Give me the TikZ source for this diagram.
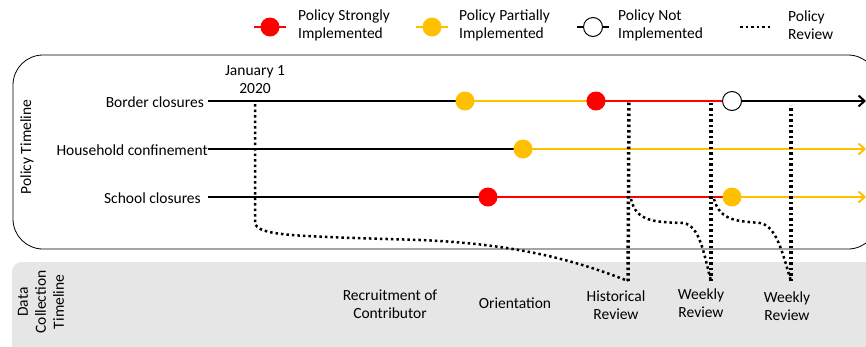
\documentclass[tikz,border=0pt]{standalone}
\usepackage{fontspec}
\setmainfont{Carlito}
\usetikzlibrary{arrows.meta}
\definecolor{pyellow}{HTML}{FFC000}
\definecolor{pred}{HTML}{FF0000}
\definecolor{dcgray}{HTML}{E6E6E6}
\begin{document}
\begin{tikzpicture}[x=1pt,y=-1pt,
  lbl/.style={font=\fontsize{15.5}{18}\selectfont, inner sep=0pt, align=center},
  lbll/.style={lbl, align=left, anchor=west},
  dotred/.style={circle, fill=pred, minimum size=19pt, inner sep=0pt},
  dotyel/.style={circle, fill=pyellow, minimum size=19pt, inner sep=0pt},
  dotnot/.style={circle, draw=black, fill=white, line width=1pt, minimum size=19pt, inner sep=0pt},
  tl/.style={line width=2pt},
  review/.style={line width=2.5pt, dash pattern=on 2.5pt off 3pt},
  reviewv/.style={line width=3.5pt, dash pattern=on 2.5pt off 3pt},
  arr/.style={-{Straight Barb[length=6pt,width=11pt]}},
]
\useasboundingbox (0,0) rectangle (866,346);
\clip (0,0) rectangle (866,346);

% panels
\fill[dcgray, rounded corners=10pt] (12,262) rectangle (900,370);
\draw[line width=0.8pt, rounded corners=30pt] (13,55) rectangle (878,249);
\node[lbl, rotate=90] (ptl) at (27,147) {Policy Timeline};
\node[lbl, rotate=90] (dctl) at (41,302) {Data\\Collection\\Timeline};

% legend
\coordinate (lrl) at (254,27); \coordinate (lrr) at (286,27);
\coordinate (lyl) at (416,27); \coordinate (lyr) at (448,27);
\coordinate (lnl) at (577,27); \coordinate (lnr) at (609,27);
\coordinate (lvl) at (740,27); \coordinate (lvr) at (772,27);
\draw[tl, pred] (lrl) -- (lrr);
\draw[tl, pyellow] (lyl) -- (lyr);
\draw[tl] (lnl) -- (lnr);
\draw[review] (lvl) -- (lvr);
\node[dotred] (lr) at (270,27) {};
\node[dotyel] (ly) at (432,27) {};
\node[dotnot] (ln) at (593,27) {};
\node[lbll] (tr) at (298,25) {Policy Strongly\\Implemented};
\node[lbll] (ty) at (459,25) {Policy Partially\\Implemented};
\node[lbll] (tn) at (618,25) {Policy Not\\Implemented};
\node[lbll] (tv) at (788,25) {Policy\\Review};

% date
\node[lbl] (jan) at (255,80) {January 1\\2020};

% row labels
\node[lbl, anchor=east] (bl) at (204,102) {Border closures};
\node[lbl, anchor=east] (hl) at (208,150) {Household confinement};
\node[lbl, anchor=east] (sl) at (201,198) {School closures};

% row coordinates
\coordinate (bs) at (208,101); \coordinate (be) at (866,101);
\coordinate (hs) at (208,149); \coordinate (he) at (866,149);
\coordinate (ss) at (208,197); \coordinate (se) at (866,197);

% event positions
\coordinate (b1) at (465,101); \coordinate (b2) at (596,101); \coordinate (b3) at (732,101);
\coordinate (h1) at (523,149);
\coordinate (s1) at (488,197); \coordinate (s2) at (732,197);

% timeline lines
\draw[tl] (bs) -- (b1);
\draw[tl, pyellow] (b1) -- (b2);
\draw[tl, pred] (b2) -- (b3);
\draw[tl, arr] (b3) -- (be);
\draw[tl] (hs) -- (h1);
\draw[tl, pyellow, arr] (h1) -- (he);
\draw[tl] (ss) -- (s1);
\draw[tl, pred] (s1) -- (s2);
\draw[tl, pyellow, arr] (s2) -- (se);

% review lines
\coordinate (jt) at (255,104);
\coordinate (rht) at (629,100); \coordinate (rhb) at (628,281); \coordinate (rhm) at (631,199);
\coordinate (rw1t) at (711,101); \coordinate (rw1b) at (711,281); \coordinate (rw1m) at (714,199);
\coordinate (rw2t) at (791,105); \coordinate (rw2b) at (791,281);
\draw[review] (jt) -- (255,222) .. controls (256,236) and (290,236) .. (420,240)
   .. controls (520,244) and (580,262) .. (rhb);
\draw[reviewv] (rhb) -- (rht);
\draw[review] (rhm) .. controls (636,222) and (655,222) .. (683,223)
   .. controls (700,225) and (704,255) .. (rw1b);
\draw[reviewv] (rw1b) -- (rw1t);
\draw[review] (rw1m) .. controls (720,222) and (740,221) .. (760,223)
   .. controls (778,226) and (784,260) .. (rw2b);
\draw[reviewv] (rw2b) -- (rw2t);

% dots
\node[dotyel] (nb1) at (b1) {};
\node[dotred] (nb2) at (b2) {};
\node[dotnot] (nb3) at (b3) {};
\node[dotyel] (nh1) at (h1) {};
\node[dotred] (ns1) at (s1) {};
\node[dotyel] (ns2) at (s2) {};

% data collection labels
\node[lbl] (rec) at (390,304) {Recruitment of\\Contributor};
\node[lbl] (ori) at (515,303) {Orientation};
\node[lbl] (his) at (616,305) {Historical\\Review};
\node[lbl] (wk1) at (701,303) {Weekly\\Review};
\node[lbl] (wk2) at (787,306) {Weekly\\Review};
\end{tikzpicture}
\end{document}
